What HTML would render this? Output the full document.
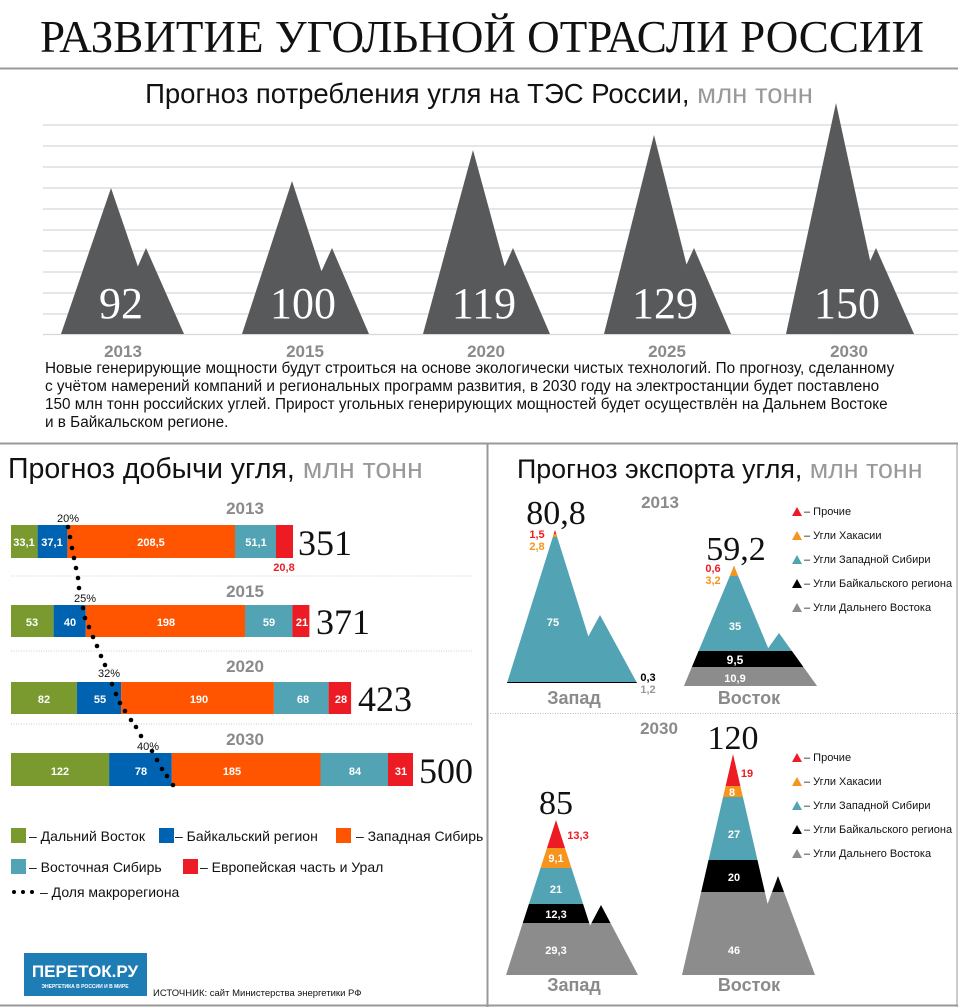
<!DOCTYPE html>
<html><head><meta charset="utf-8"><style>
html,body{margin:0;padding:0;background:#fff;width:958px;height:1007px;overflow:hidden}
svg{display:block}
.s{font-family:"Liberation Sans","DejaVu Sans",sans-serif}
.r{font-family:"Liberation Serif","DejaVu Serif",serif}
.b{font-weight:bold}
</style></head><body>
<svg width="958" height="1007" viewBox="0 0 958 1007" xmlns="http://www.w3.org/2000/svg">
<defs>
<clipPath id="zw13"><polygon points="507,683 555,530 603,683"/><polygon points="563,683 600,615 637,683"/></clipPath>
<clipPath id="vo13"><polygon points="684,686 734,566 784,686"/><polygon points="741,686 779,633 817,686"/></clipPath>
<clipPath id="zw30"><polygon points="506,975 556,820 606,975"/><polygon points="564,975 601,905 638,975"/></clipPath>
<clipPath id="vo30"><polygon points="682,975 733,754 784,975"/><polygon points="741,975 778,876 815,975"/></clipPath>
</defs>
<text x="482" y="52" text-anchor="middle" class="r" font-size="45" fill="#111" textLength="884" lengthAdjust="spacingAndGlyphs">РАЗВИТИЕ УГОЛЬНОЙ ОТРАСЛИ РОССИИ</text>
<line x1="0" y1="68.5" x2="958" y2="68.5" stroke="#999" stroke-width="2"/>
<text x="479" y="103" text-anchor="middle" class="s" font-size="27.5" fill="#111">Прогноз потребления угля на ТЭС России, <tspan fill="#999">млн тонн</tspan></text>
<g stroke="#d8d8d8" stroke-width="1.3">
<line x1="43" y1="125" x2="958" y2="125"/><line x1="43" y1="146" x2="958" y2="146"/><line x1="43" y1="167" x2="958" y2="167"/><line x1="43" y1="188" x2="958" y2="188"/><line x1="43" y1="209" x2="958" y2="209"/><line x1="43" y1="230" x2="958" y2="230"/><line x1="43" y1="251" x2="958" y2="251"/><line x1="43" y1="272" x2="958" y2="272"/><line x1="43" y1="293" x2="958" y2="293"/><line x1="43" y1="314" x2="958" y2="314"/><line x1="43" y1="334.5" x2="958" y2="334.5"/>
</g>
<g fill="#58595b">
<polygon points="61,334 111,188 161,334"/><polygon points="108,334 146,248 184,334"/>
<polygon points="242,334 292,181 342,334"/><polygon points="293,334 332,248 369,334"/>
<polygon points="423,334 473,150 523,334"/><polygon points="474,334 513,248 550,334"/>
<polygon points="604,334 654,135 704,334"/><polygon points="655,334 694,248 731,334"/>
<polygon points="786,334 836,103 886,334"/><polygon points="837,334 876,248 914,334"/>
</g>
<g class="r" font-size="44" fill="#fff" text-anchor="middle">
<text x="121" y="318">92</text><text x="303" y="318">100</text><text x="484" y="318">119</text><text x="665" y="318">129</text><text x="847" y="318">150</text>
</g>
<g class="s b" font-size="17" fill="#8a8a8a" text-anchor="middle">
<text x="123" y="357">2013</text><text x="305" y="357">2015</text><text x="486" y="357">2020</text><text x="667" y="357">2025</text><text x="849" y="357">2030</text>
</g>
<g class="s" font-size="15.3" fill="#111">
<text x="45" y="373">Новые генерирующие мощности будут строиться на основе экологически чистых технологий.  По прогнозу, сделанному</text>
<text x="45" y="391">с учётом намерений компаний и региональных программ развития, в 2030 году на электростанции будет поставлено</text>
<text x="45" y="409">150 млн тонн российских углей. Прирост угольных генерирующих мощностей будет осуществлён на Дальнем Востоке</text>
<text x="45" y="427">и в Байкальском регионе.</text>
</g>
<line x1="0" y1="443.5" x2="958" y2="443.5" stroke="#999" stroke-width="2"/>
<line x1="487.5" y1="443" x2="487.5" y2="1007" stroke="#999" stroke-width="2"/>
<line x1="0" y1="1005.5" x2="958" y2="1005.5" stroke="#999" stroke-width="2"/>
<line x1="957" y1="443" x2="957" y2="1007" stroke="#999" stroke-width="1"/>

<text x="8" y="478" class="s" font-size="28.5" fill="#111">Прогноз добычи угля, <tspan fill="#999">млн тонн</tspan></text>
<g stroke="#ccc" stroke-dasharray="1,1.5" stroke-width="1"><line x1="11" y1="576" x2="472" y2="576"/><line x1="11" y1="651" x2="472" y2="651"/><line x1="11" y1="724" x2="472" y2="724"/></g>
<g class="s b" font-size="17" fill="#8a8a8a" text-anchor="middle"><text x="245" y="514">2013</text><text x="245" y="597">2015</text><text x="245" y="672">2020</text><text x="245" y="745">2030</text></g>
<rect x="11" y="525" width="26.6" height="33" fill="#7a9a2f"/><rect x="37.6" y="525" width="29.8" height="33" fill="#0063b1"/><rect x="67.4" y="525" width="167.6" height="33" fill="#ff5400"/><rect x="235" y="525" width="41" height="33" fill="#52a3b3"/><rect x="276" y="525" width="17" height="33" fill="#ed1c24"/>
<rect x="11" y="605" width="42.6" height="32" fill="#7a9a2f"/><rect x="53.6" y="605" width="32.2" height="32" fill="#0063b1"/><rect x="85.8" y="605" width="159.2" height="32" fill="#ff5400"/><rect x="245" y="605" width="47.4" height="32" fill="#52a3b3"/><rect x="292.4" y="605" width="17" height="32" fill="#ed1c24"/>
<rect x="11" y="682" width="65.9" height="32" fill="#7a9a2f"/><rect x="76.9" y="682" width="44.2" height="32" fill="#0063b1"/><rect x="121.1" y="682" width="152.8" height="32" fill="#ff5400"/><rect x="273.9" y="682" width="54.7" height="32" fill="#52a3b3"/><rect x="328.6" y="682" width="22.5" height="32" fill="#ed1c24"/>
<rect x="11" y="753" width="98.1" height="33" fill="#7a9a2f"/><rect x="109.1" y="753" width="62.7" height="33" fill="#0063b1"/><rect x="171.8" y="753" width="148.7" height="33" fill="#ff5400"/><rect x="320.5" y="753" width="67.5" height="33" fill="#52a3b3"/><rect x="388" y="753" width="25" height="33" fill="#ed1c24"/>
<g class="s b" font-size="11" fill="#fff" text-anchor="middle">
<text x="24" y="546">33,1</text><text x="52" y="546">37,1</text><text x="151" y="546">208,5</text><text x="256" y="546">51,1</text>
<text x="32" y="626">53</text><text x="70" y="626">40</text><text x="166" y="626">198</text><text x="269" y="626">59</text><text x="302" y="626">21</text>
<text x="44" y="703">82</text><text x="100" y="703">55</text><text x="199" y="703">190</text><text x="303" y="703">68</text><text x="341" y="703">28</text>
<text x="60" y="775">122</text><text x="141" y="775">78</text><text x="232" y="775">185</text><text x="355" y="775">84</text><text x="401" y="775">31</text>
</g>
<text x="284" y="571" text-anchor="middle" class="s b" font-size="11" fill="#ed1c24">20,8</text>
<g class="r" font-size="36" fill="#111"><text x="298" y="555">351</text><text x="316" y="634">371</text><text x="358" y="711">423</text><text x="419" y="783">500</text></g>
<g fill="#000">
<circle cx="68" cy="527" r="2.3"/><circle cx="70" cy="537" r="2.3"/><circle cx="72" cy="548" r="2.3"/><circle cx="74" cy="558" r="2.3"/><circle cx="76" cy="568" r="2.3"/><circle cx="78" cy="578" r="2.3"/><circle cx="79" cy="588" r="2.3"/>
<circle cx="83" cy="608" r="2.3"/><circle cx="85" cy="618" r="2.3"/><circle cx="89" cy="627" r="2.3"/><circle cx="93" cy="637" r="2.3"/><circle cx="97" cy="646" r="2.3"/><circle cx="101" cy="656" r="2.3"/><circle cx="105" cy="665" r="2.3"/>
<circle cx="112" cy="684" r="2.3"/><circle cx="116" cy="694" r="2.3"/><circle cx="120" cy="703" r="2.3"/><circle cx="125" cy="711" r="2.3"/><circle cx="131" cy="720" r="2.3"/><circle cx="136" cy="727" r="2.3"/><circle cx="141" cy="736" r="2.3"/>
<circle cx="152" cy="751" r="2.3"/><circle cx="157" cy="760" r="2.3"/><circle cx="162" cy="769" r="2.3"/><circle cx="167" cy="776" r="2.3"/><circle cx="173" cy="785" r="2.3"/>
</g>
<g class="s" font-size="11" fill="#111" text-anchor="middle"><text x="68" y="522">20%</text><text x="85" y="602">25%</text><text x="109" y="677">32%</text><text x="148" y="750">40%</text></g>
<rect x="11" y="828" width="15" height="15" fill="#7a9a2f"/><rect x="159" y="828" width="15" height="15" fill="#0063b1"/><rect x="336" y="828" width="15" height="15" fill="#ff5400"/>
<rect x="11" y="859" width="15" height="15" fill="#52a3b3"/><rect x="183" y="859" width="15" height="15" fill="#ed1c24"/>
<g class="s" font-size="14" fill="#111">
<text x="29" y="841">– Дальний Восток</text><text x="175" y="841">– Байкальский регион</text><text x="356" y="841">– Западная Сибирь</text>
<text x="29" y="872">– Восточная Сибирь</text><text x="200" y="872">– Европейская часть и Урал</text>
<text x="40" y="897">– Доля макрорегиона</text>
</g>
<circle cx="14" cy="892" r="2" fill="#000"/><circle cx="23" cy="892" r="2" fill="#000"/><circle cx="32" cy="892" r="2" fill="#000"/>
<rect x="24" y="953" width="123" height="43" fill="#1f7db5"/>
<text x="85" y="977" text-anchor="middle" class="s b" font-size="17" fill="#fff">ПЕРЕТОК.РУ</text>
<text x="85" y="988" text-anchor="middle" class="s b" font-size="5" fill="#fff">ЭНЕРГЕТИКА В РОССИИ И В МИРЕ</text>
<text x="153" y="996" class="s" font-size="9.5" fill="#111">ИСТОЧНИК: сайт Министерства энергетики РФ</text>

<text x="517" y="478" class="s" font-size="26.8" fill="#111">Прогноз экспорта угля, <tspan fill="#999">млн тонн</tspan></text>
<text x="660" y="508" text-anchor="middle" class="s b" font-size="17" fill="#8a8a8a">2013</text>
<g clip-path="url(#zw13)">
<rect x="500" y="520" width="150" height="170" fill="#52a3b3"/>
<rect x="500" y="520" width="150" height="14" fill="#ed1c24"/>
<rect x="500" y="534" width="150" height="3" fill="#f7941d"/>
<rect x="500" y="682" width="150" height="1.5" fill="#000"/>
<rect x="500" y="683.5" width="150" height="3" fill="#8c8c8c"/>
</g>
<g clip-path="url(#vo13)">
<rect x="680" y="560" width="140" height="130" fill="#52a3b3"/>
<rect x="680" y="560" width="140" height="8" fill="#ed1c24"/>
<rect x="680" y="566" width="140" height="10" fill="#f7941d"/>
<rect x="680" y="651" width="140" height="16" fill="#000"/>
<rect x="680" y="667" width="140" height="20" fill="#8c8c8c"/>
</g>
<g class="r" font-size="34" fill="#111" text-anchor="middle"><text x="556" y="524">80,8</text><text x="736" y="560">59,2</text></g>
<g class="s b" font-size="11" text-anchor="middle">
<text x="537" y="538" fill="#ed1c24">1,5</text><text x="537" y="550" fill="#f7941d">2,8</text>
<text x="713" y="572" fill="#ed1c24">0,6</text><text x="713" y="584" fill="#f7941d">3,2</text>
<text x="553" y="626" fill="#fff">75</text><text x="735" y="630" fill="#fff">35</text>
<text x="735" y="664" fill="#fff" font-size="12">9,5</text><text x="735" y="682" fill="#fff">10,9</text>
<text x="648" y="681" fill="#000">0,3</text><text x="648" y="693" fill="#999">1,2</text>
</g>
<g class="s b" font-size="18" fill="#8a8a8a" text-anchor="middle"><text x="574" y="704">Запад</text><text x="749" y="704">Восток</text></g>
<g class="s" font-size="11" fill="#111">
<polygon points="792,516 797,507 802,516" fill="#ed1c24"/><text x="804" y="515">– Прочие</text>
<polygon points="792,540 797,531 802,540" fill="#f7941d"/><text x="804" y="539">– Угли Хакасии</text>
<polygon points="792,564 797,555 802,564" fill="#52a3b3"/><text x="804" y="563">– Угли Западной Сибири</text>
<polygon points="792,588 797,579 802,588" fill="#000"/><text x="804" y="587">– Угли Байкальского региона</text>
<polygon points="792,612 797,603 802,612" fill="#8c8c8c"/><text x="804" y="611">– Угли Дальнего Востока</text>
</g>
<line x1="490" y1="713.5" x2="958" y2="713.5" stroke="#bbb" stroke-dasharray="1,1.5"/>
<text x="659" y="734" text-anchor="middle" class="s b" font-size="17" fill="#8a8a8a">2030</text>
<g clip-path="url(#zw30)">
<rect x="500" y="815" width="150" height="33" fill="#ed1c24"/>
<rect x="500" y="848" width="150" height="20" fill="#f7941d"/>
<rect x="500" y="868" width="150" height="36" fill="#52a3b3"/>
<rect x="500" y="904" width="150" height="19" fill="#000"/>
<rect x="500" y="923" width="150" height="52" fill="#8c8c8c"/>
</g>
<g clip-path="url(#vo30)">
<rect x="680" y="750" width="140" height="36" fill="#ed1c24"/>
<rect x="680" y="786" width="140" height="11" fill="#f7941d"/>
<rect x="680" y="797" width="140" height="63" fill="#52a3b3"/>
<rect x="680" y="860" width="140" height="32" fill="#000"/>
<rect x="680" y="892" width="140" height="83" fill="#8c8c8c"/>
</g>
<g class="r" font-size="34" fill="#111" text-anchor="middle"><text x="556" y="814">85</text><text x="733" y="749">120</text></g>
<g class="s b" font-size="11" text-anchor="middle">
<text x="578" y="839" fill="#ed1c24">13,3</text><text x="747" y="777" fill="#ed1c24">19</text>
<text x="556" y="862" fill="#fff">9,1</text><text x="732" y="796" fill="#fff">8</text>
<text x="556" y="893" fill="#fff">21</text><text x="734" y="838" fill="#fff">27</text>
<text x="556" y="918" fill="#fff">12,3</text><text x="734" y="881" fill="#fff">20</text>
<text x="556" y="954" fill="#fff">29,3</text><text x="734" y="954" fill="#fff">46</text>
</g>
<g class="s b" font-size="18" fill="#8a8a8a" text-anchor="middle"><text x="574" y="991">Запад</text><text x="749" y="991">Восток</text></g>
<g class="s" font-size="11" fill="#111">
<polygon points="792,762 797,753 802,762" fill="#ed1c24"/><text x="804" y="761">– Прочие</text>
<polygon points="792,786 797,777 802,786" fill="#f7941d"/><text x="804" y="785">– Угли Хакасии</text>
<polygon points="792,810 797,801 802,810" fill="#52a3b3"/><text x="804" y="809">– Угли Западной Сибири</text>
<polygon points="792,834 797,825 802,834" fill="#000"/><text x="804" y="833">– Угли Байкальского региона</text>
<polygon points="792,858 797,849 802,858" fill="#8c8c8c"/><text x="804" y="857">– Угли Дальнего Востока</text>
</g>
</svg>
</body></html>
